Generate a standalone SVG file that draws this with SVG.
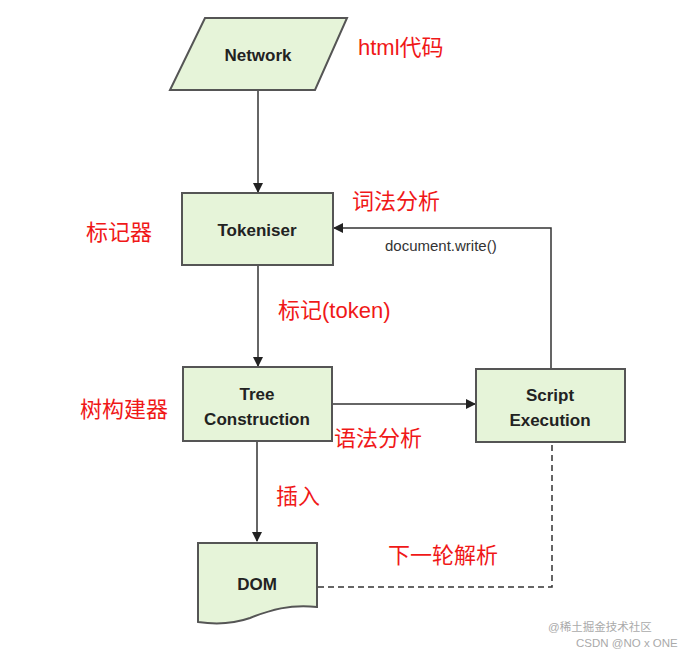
<svg xmlns="http://www.w3.org/2000/svg" width="698" height="657" viewBox="0 0 698 657">
<style>
.n{fill:#e6f4d9;stroke:#555;stroke-width:2}
.t{font-family:"Liberation Sans",Arial,sans-serif;font-weight:bold;font-size:17px;fill:#222;text-anchor:middle}
.r{font-family:"Liberation Sans","Noto Sans CJK SC",sans-serif;font-size:22px;fill:#f01818}
.c{stroke:#333;stroke-width:1.5;fill:none}
.w{font-family:"Liberation Sans","Noto Sans CJK SC",sans-serif;font-size:11.5px;fill:#aaa}
</style>
<defs><marker id="a" markerWidth="10" markerHeight="10" refX="9" refY="5" orient="auto" markerUnits="userSpaceOnUse"><path d="M0,0 L10,5 L0,10 z" fill="#222"/></marker></defs>
<rect width="698" height="657" fill="#fff"/>
<g id="connectors">
<line class="c" x1="258" y1="90" x2="258" y2="192" marker-end="url(#a)"/>
<line class="c" x1="258" y1="265" x2="258" y2="366" marker-end="url(#a)"/>
<line class="c" x1="332" y1="404" x2="475" y2="404" marker-end="url(#a)"/>
<polyline class="c" points="551,369 551,228 334,228" marker-end="url(#a)"/>
<line class="c" x1="257" y1="441" x2="257" y2="541" marker-end="url(#a)"/>
<polyline class="c" points="318,587 552,587 552,442" stroke-dasharray="6,4"/>
</g>
<g id="network"><polygon class="n" points="205,18 347,18 315,90 170,90"/><text class="t" x="258" y="61">Network</text></g>
<g id="tokeniser"><rect class="n" x="182" y="193" width="151" height="72"/><text class="t" x="257" y="236">Tokeniser</text></g>
<g id="tree"><rect class="n" x="183" y="367" width="149" height="74"/><text class="t" x="257" y="400">Tree</text><text class="t" x="257" y="425">Construction</text></g>
<g id="script"><rect class="n" x="476" y="369" width="149" height="73"/><text class="t" x="550" y="401">Script</text><text class="t" x="550" y="426">Execution</text></g>
<g id="dom"><path class="n" d="M198,543 H317 V607 C290,604 270,610 250,618 C230,625 212,624 198,622 Z"/><text class="t" x="257" y="590">DOM</text></g>
<text x="385" y="251" font-family="Liberation Sans,Arial,sans-serif" font-size="15" fill="#333">document.write()</text>
<text class="r" x="358" y="55">html代码</text>
<text class="r" x="352" y="209">词法分析</text>
<text class="r" x="86" y="240">标记器</text>
<text class="r" x="278" y="318">标记(token)</text>
<text class="r" x="80" y="417">树构建器</text>
<text class="r" x="334" y="446">语法分析</text>
<text class="r" x="276" y="504">插入</text>
<text class="r" x="388" y="563">下一轮解析</text>
<text class="w" x="548" y="631">@稀土掘金技术社区</text>
<text class="w" x="576" y="647">CSDN @NO x ONE</text>
</svg>
